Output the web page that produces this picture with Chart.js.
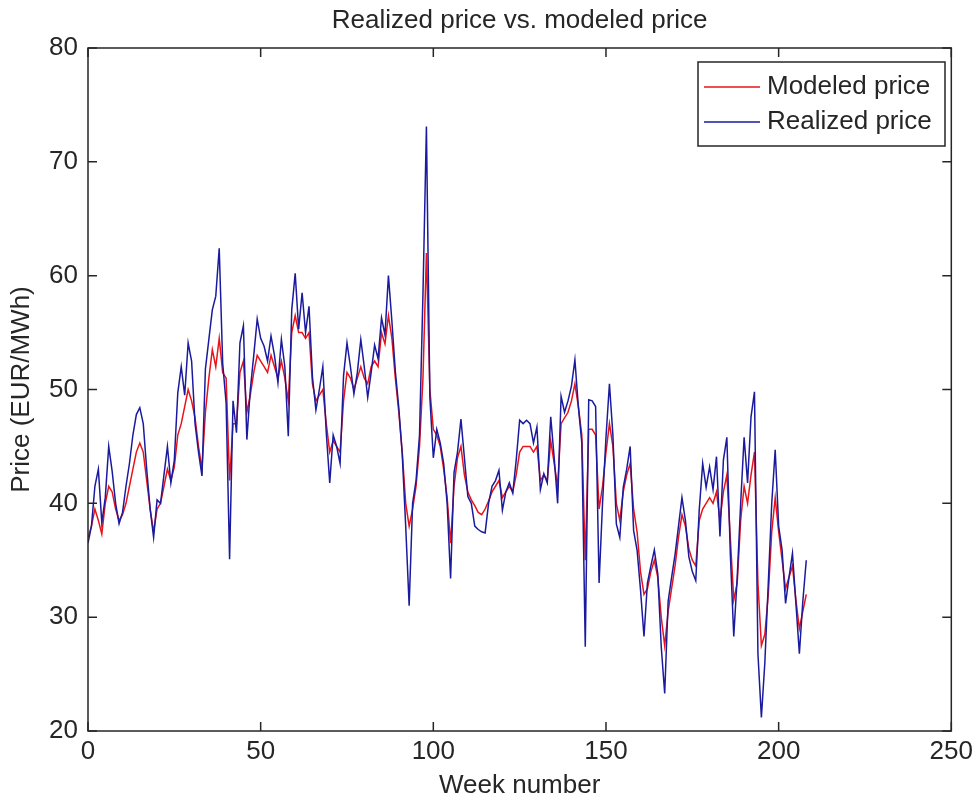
<!DOCTYPE html>
<html>
<head>
<meta charset="utf-8">
<script src="https://cdn.jsdelivr.net/npm/chart.js@4.4.0/dist/chart.umd.min.js"></script>
<style>
  body { margin: 0; background: #fff; }
  #wrap { width: 978px; height: 803px; }
</style>
</head>
<body>
<div id="wrap"><canvas id="priceChart"></canvas></div>
<script>
const weeks = Array.from({ length: 209 }, (_, i) => i);

// weekly prices, EUR/MWh
const modeledPrice = [
  37.0, 38.0, 39.5, 38.5, 37.3, 40.0, 41.5, 41.0, 39.5, 38.5,
  39.0, 40.0, 41.5, 43.0, 44.5, 45.3, 44.5, 42.0, 39.5, 37.5,
  39.5, 40.0, 41.5, 43.0, 42.0, 43.2, 46.0, 47.0, 48.5, 50.0,
  49.0, 47.5, 45.0, 43.0, 48.0, 51.0, 53.5, 52.0, 54.5, 51.5,
  51.0, 42.0, 47.0, 47.0, 51.5, 52.5, 48.0, 49.5, 51.5, 53.0,
  52.5, 52.0, 51.5, 53.0, 52.0, 51.0, 52.5, 51.0, 49.0, 55.0,
  56.5, 55.0, 55.0, 54.5, 55.0, 50.5, 49.0, 49.5, 50.0, 47.0,
  44.5, 45.5, 45.0, 44.5, 49.0, 51.5, 51.0, 50.0, 51.0, 52.0,
  51.0, 50.5, 52.0, 52.5, 52.0, 55.0, 54.0, 56.5, 54.5, 51.0,
  48.0, 44.5, 40.0, 38.0, 39.5, 41.5, 45.0, 51.0, 62.0, 50.0,
  46.5, 46.0, 45.0, 43.0, 40.5, 36.5, 41.5, 44.0, 45.0, 42.5,
  41.0, 40.3, 39.8, 39.2, 39.0, 39.5, 40.2, 41.0, 41.5, 42.0,
  40.5, 41.0, 41.5, 41.0, 42.5, 44.5, 45.0, 45.0, 45.0, 44.5,
  45.0, 42.0, 42.5, 42.0, 45.5, 43.5, 41.5, 47.0, 47.5, 48.0,
  49.0, 50.5, 48.5, 46.0, 35.0, 46.5, 46.5, 46.0, 39.5, 41.5,
  44.5, 47.0, 45.0, 40.0, 38.5, 41.0, 42.5, 43.5, 39.5, 37.5,
  34.0, 32.0, 32.5, 34.0, 35.0, 33.5, 30.0, 27.5, 30.5, 32.5,
  34.5, 37.0, 39.0, 38.0, 36.0, 35.0, 34.5, 38.5, 39.5, 40.0,
  40.5, 40.0, 41.0, 38.5, 41.0, 42.5, 37.0, 31.5, 33.0, 38.5,
  41.5, 40.0, 42.5, 44.5, 33.0, 27.5, 28.5, 32.0, 37.5, 40.5,
  37.5, 35.0, 32.5, 33.5, 34.5, 31.5, 29.0, 30.5, 32.0
];

const realizedPrice = [
  36.5, 38.0, 41.5, 43.0, 38.3, 40.5, 45.0, 42.8, 40.0, 38.2,
  39.2, 41.5, 43.5, 46.0, 47.8, 48.4, 47.0, 43.0, 39.5, 37.0,
  40.3, 40.0, 42.5, 45.0, 41.8, 43.8, 49.7, 52.0, 49.5, 54.1,
  52.5, 47.0, 44.5, 42.4, 51.8, 54.4, 57.0, 58.2, 62.4, 52.3,
  48.8, 35.1, 49.0, 46.2, 54.1, 55.6, 45.6, 50.0, 53.0, 56.2,
  54.5, 53.8, 52.5, 54.7, 53.0, 50.6, 54.4, 52.0, 45.9, 57.0,
  60.2, 55.3, 58.5, 55.0, 57.3, 51.1, 48.2, 50.0, 52.0, 46.2,
  41.8, 46.0, 45.0, 43.5, 51.2, 54.1, 52.0, 49.6, 51.5, 54.4,
  52.0, 49.3, 51.5, 53.9, 52.7, 56.3, 54.8, 60.0, 56.0, 51.6,
  48.4, 44.3, 38.0, 31.0, 40.0, 42.0, 46.0, 58.4, 73.1, 49.3,
  44.0, 46.5, 45.3, 43.5, 40.0, 33.4, 42.7, 44.5, 47.4, 44.0,
  40.6, 40.0, 38.0, 37.7, 37.5, 37.4, 40.0, 41.5, 42.0, 42.9,
  39.4, 41.0, 41.8, 40.9, 43.8, 47.3, 47.0, 47.3, 47.0, 45.3,
  46.7, 41.2, 42.6, 41.8, 47.6, 44.0, 40.0, 49.4, 48.0, 49.0,
  50.3, 52.6, 48.5, 45.3, 27.4, 49.1, 49.0, 48.5, 33.0, 40.0,
  45.8, 50.5, 46.0, 38.2, 37.0, 41.4, 43.0, 45.0, 37.6, 35.9,
  32.4, 28.3, 33.0, 34.5, 35.9, 33.8, 27.4, 23.3, 31.4, 33.5,
  35.5, 38.0, 40.5, 38.5, 35.3, 34.0, 33.2, 39.4, 43.5, 41.4,
  43.2, 41.2, 44.1, 37.1, 43.8, 45.8, 35.6, 28.3, 33.5, 40.0,
  45.8, 41.8, 47.6, 49.8, 26.8, 21.2, 26.0, 33.0, 40.0, 44.7,
  38.0, 35.9, 31.2, 33.5, 35.6, 31.2, 26.8, 31.4, 35.0
];

const xTicks = [0, 50, 100, 150, 200, 250];
const yTicks = [20, 30, 40, 50, 60, 70, 80];
const seriesNames = ["Modeled price", "Realized price"];
const seriesColors = ["#e8141a", "#1a1a9e"];
const chartTitle = "Realized price vs. modeled price";

const ink = "#262626";
const fontFamily = "'Liberation Sans', Arial, sans-serif";
Chart.defaults.font.family = fontFamily;
Chart.defaults.font.size = 26;
Chart.defaults.color = ink;

// title over the plot, box around the axes, inward ticks and the boxed legend
const axesBox = {
  id: "axesBox",
  afterDatasetsDraw(chart) {
    const { ctx, chartArea: a, scales } = chart;
    const len = 9;
    ctx.save();
    ctx.strokeStyle = ink;
    ctx.lineWidth = 1.5;
    ctx.strokeRect(a.left, a.top, a.right - a.left, a.bottom - a.top);
    ctx.beginPath();
    xTicks.forEach(v => {
      const x = scales.x.getPixelForValue(v);
      ctx.moveTo(x, a.bottom); ctx.lineTo(x, a.bottom - len);
      ctx.moveTo(x, a.top); ctx.lineTo(x, a.top + len);
    });
    yTicks.forEach(v => {
      const y = scales.y.getPixelForValue(v);
      ctx.moveTo(a.left, y); ctx.lineTo(a.left + len, y);
      ctx.moveTo(a.right, y); ctx.lineTo(a.right - len, y);
    });
    ctx.stroke();

    ctx.font = "26px " + fontFamily;
    ctx.fillStyle = ink;
    ctx.textAlign = "center";
    ctx.textBaseline = "middle";
    ctx.fillText(chartTitle, (a.left + a.right) / 2, 21);

    // legend
    const lx = 698, ly = 62, lw = 247, lh = 84;
    ctx.fillStyle = "#fff";
    ctx.fillRect(lx, ly, lw, lh);
    ctx.strokeRect(lx, ly, lw, lh);
    ctx.textAlign = "left";
    seriesNames.forEach((name, i) => {
      const y = ly + 25 + i * 35;
      ctx.strokeStyle = seriesColors[i];
      ctx.lineWidth = 1.5;
      ctx.beginPath();
      ctx.moveTo(lx + 6, y); ctx.lineTo(lx + 62, y);
      ctx.stroke();
      ctx.fillStyle = ink;
      ctx.fillText(name, lx + 69, y);
    });
    ctx.restore();
  }
};

new Chart(document.getElementById("priceChart"), {
  type: "line",
  data: {
    datasets: [
      {
        label: seriesNames[0],
        data: modeledPrice.map((v, i) => ({ x: weeks[i], y: v })),
        borderColor: seriesColors[0],
        borderWidth: 1.5,
        pointRadius: 0,
        tension: 0,
        order: 1
      },
      {
        label: seriesNames[1],
        data: realizedPrice.map((v, i) => ({ x: weeks[i], y: v })),
        borderColor: seriesColors[1],
        borderWidth: 1.5,
        pointRadius: 0,
        tension: 0,
        order: 0
      }
    ]
  },
  options: {
    responsive: true,
    maintainAspectRatio: false,
    animation: false,
    layout: { padding: { top: 48, right: 23 } },
    plugins: {
      legend: { display: false },
      tooltip: { enabled: false },
      title: { display: false }
    },
    scales: {
      x: {
        type: "linear",
        min: 0,
        max: 250,
        afterBuildTicks: s => { s.ticks = xTicks.map(v => ({ value: v })); },
        afterFit: s => { s.height = 72; },
        grid: { display: false, drawTicks: false },
        border: { display: false },
        ticks: { padding: 5, maxRotation: 0 },
        title: { display: true, text: "Week number", padding: { top: 2, bottom: 2 } }
      },
      y: {
        min: 20,
        max: 80,
        afterBuildTicks: s => { s.ticks = yTicks.map(v => ({ value: v })); },
        afterFit: s => { s.width = 88; },
        grid: { display: false, drawTicks: false },
        border: { display: false },
        ticks: { padding: 10 },
        title: { display: true, text: "Price (EUR/MWh)", padding: { top: 6, bottom: 6 } }
      }
    }
  },
  plugins: [axesBox]
});
</script>
</body>
</html>
